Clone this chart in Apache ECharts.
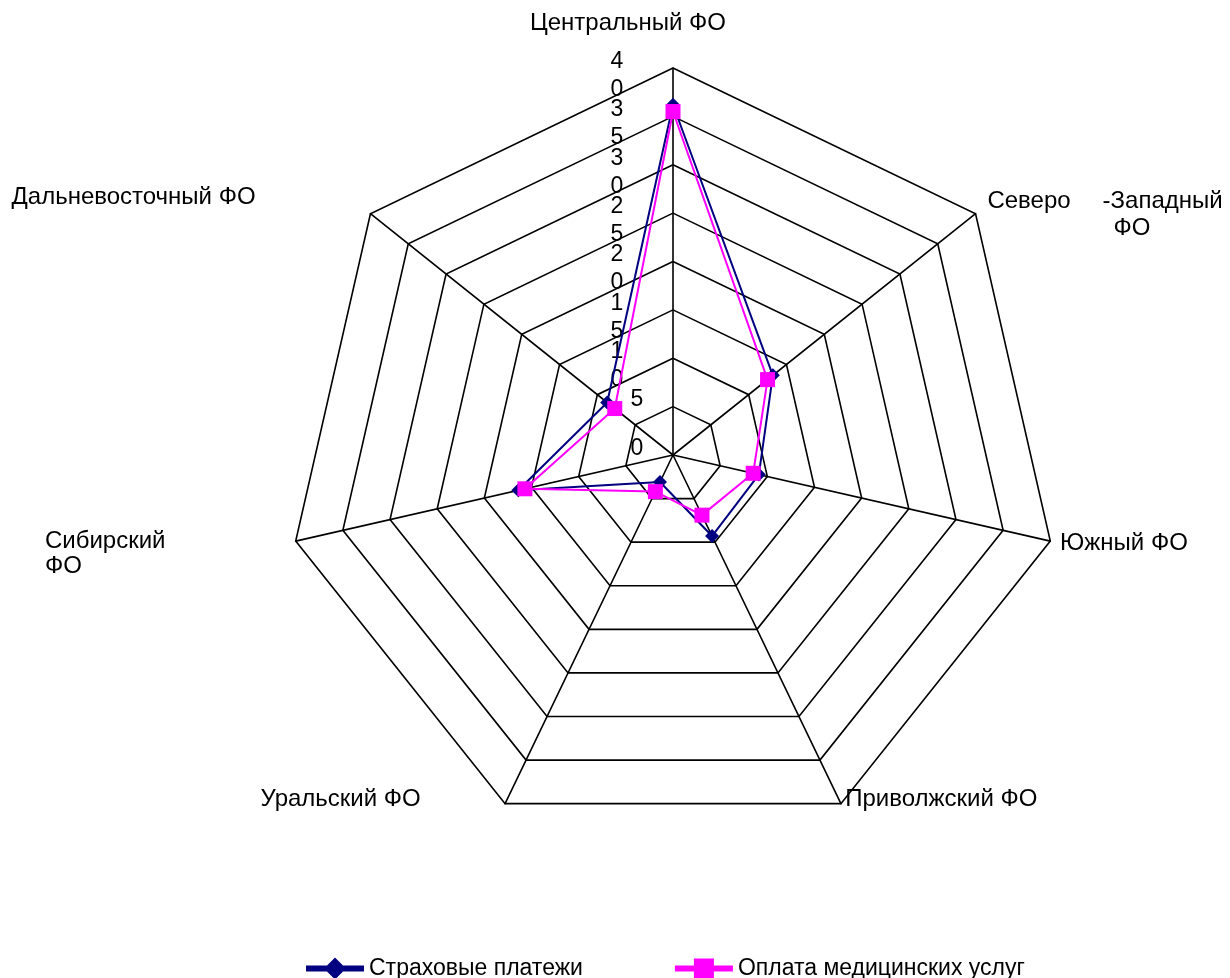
<!DOCTYPE html>
<html>
<head>
<meta charset="utf-8">
<script src="https://cdn.jsdelivr.net/npm/echarts@6/dist/echarts.min.js"></script>
<style>
  html, body { margin: 0; padding: 0; background: #fff; }
  #chart { width: 1230px; height: 978px; }
</style>
</head>
<body>
<div id="chart"></div>
<script>
// ---- data ----
const categories = ['Центральный ФО', 'Северо-Западный ФО', 'Южный ФО', 'Приволжский ФО', 'Уральский ФО', 'Сибирский ФО', 'Дальневосточный ФО'];
const seriesNames = ['Страховые платежи', 'Оплата медицинских услуг'];
const insurancePayments = [36.2, 13.2, 9.1, 9.3, 3.1, 16.4, 8.7];
const medicalPayments = [35.5, 12.5, 8.5, 6.9, 4.2, 15.7, 7.7];
const axisMin = 0;
const axisMax = 40;
const axisStep = 5;

// ---- layout / style ----
const FONT = 'Liberation Sans, Arial, sans-serif';
const FS = 24;
const TFS = 23;
// library draws indicators counter-clockwise; order them so they run clockwise
const order = [0, 6, 5, 4, 3, 2, 1];
const nameKey = ['cen', 'nw', 'south', 'volga', 'ural', 'sib', 'far'];

function nameFormatter(name) {
  const idx = categories.indexOf(name);
  const key = nameKey[idx];
  if (key === 'nw') {
    const parts = name.split('-');
    const second = parts[1].split(' ');
    return '{nw1|' + parts[0] + '}{nw2|-' + second[0] + '}\n{nw3|' + second[1] + '}';
  }
  if (key === 'sib') {
    const p = name.split(' ');
    return '{sib1|' + p[0] + '}\n{sib2|' + p[1] + '}';
  }
  return '{' + key + '|' + name + '}';
}
const base = { fontFamily: FONT, fontSize: FS, color: '#000' };
const nameRich = {
  cen: Object.assign({}, base, { padding: [0, 90, 23, 0] }),
  nw1: Object.assign({}, base, { lineHeight: 42, verticalAlign: 'bottom', padding: [0, 0, 0, 4] }),
  nw2: Object.assign({}, base, { lineHeight: 42, verticalAlign: 'bottom', padding: [0, 0, 0, 32] }),
  nw3: Object.assign({}, base, { lineHeight: 30, padding: [0, 0, 0, 130] }),
  south: Object.assign({}, base),
  volga: Object.assign({}, base, { padding: [0, 0, 26, 0] }),
  ural: Object.assign({}, base, { padding: [0, 80, 26, 0] }),
  sib1: Object.assign({}, base, { lineHeight: 47, verticalAlign: 'bottom', width: 120, align: 'left', padding: [0, 121, 0, 0] }),
  sib2: Object.assign({}, base, { lineHeight: 27, width: 120, align: 'left', padding: [0, 121, 0, 0] }),
  far: Object.assign({}, base, { padding: [0, 107, 20, 0] })
};

const diamondIcon = 'path://M0,8H58V14H0Z M29,0L40,11L29,22L18,11Z';
const squareIcon = 'path://M0,8H58V14H0Z M19,1H39V21H19Z M0,0H0.01V0.01H0Z M0,22H0.01V21.99H0Z';

// radial tick labels: digits stacked vertically (first digit / second digit)
const tickStyle = { fontFamily: FONT, fontSize: TFS, color: '#000' };
function tickAxis(gridIndex, formatter) {
  return {
    type: 'value', gridIndex: gridIndex,
    min: axisMin, max: axisMax, interval: axisStep,
    axisLine: { show: false }, axisTick: { show: false }, splitLine: { show: false },
    axisLabel: {
      margin: 8, align: 'center', verticalAlign: 'middle',
      showMinLabel: true, showMaxLabel: true, hideOverlap: false,
      formatter: formatter,
      rich: {
        d: Object.assign({}, tickStyle, { lineHeight: 26 }),
        s: Object.assign({}, tickStyle, { lineHeight: 26, padding: [0, 0, 0, 40] })
      }
    }
  };
}

const chart = echarts.init(document.getElementById('chart'), null, { renderer: 'canvas' });
chart.setOption({
  backgroundColor: '#fff',
  animation: false,
  textStyle: { fontFamily: FONT },
  legend: {
    top: 952,
    left: 301,
    itemWidth: 58,
    itemHeight: 22,
    itemGap: 92,
    textStyle: { fontFamily: FONT, fontSize: TFS, color: '#000' },
    data: [
      { name: seriesNames[0], icon: diamondIcon },
      { name: seriesNames[1], icon: squareIcon }
    ]
  },
  radar: {
    center: [673, 455],
    radius: 387,
    startAngle: 90,
    shape: 'polygon',
    splitNumber: (axisMax - axisMin) / axisStep,
    nameGap: 10,
    indicator: order.map(i => ({ name: categories[i], min: axisMin, max: axisMax })),
    axisName: {
      formatter: nameFormatter,
      rich: nameRich,
      color: '#000',
      fontSize: FS,
      fontFamily: FONT
    },
    axisLine: { lineStyle: { color: '#000', width: 1.6 } },
    splitLine: { lineStyle: { color: '#000', width: 1.6 } },
    splitArea: { show: false },
    axisTick: { show: false },
    axisLabel: { show: false }
  },
  grid: [
    { left: 625, top: 61.5, width: 10, height: 387 },
    { left: 625, top: 89.5, width: 10, height: 387 }
  ],
  xAxis: [
    { type: 'value', show: false, gridIndex: 0 },
    { type: 'value', show: false, gridIndex: 1 }
  ],
  yAxis: [
    tickAxis(0, function (v) {
      const s = String(v);
      return s.length > 1 ? '{d|' + s.charAt(0) + '}' : '{s|' + s + '}';
    }),
    tickAxis(1, function (v) {
      const s = String(v);
      return s.length > 1 ? '{d|' + s.charAt(1) + '}' : '';
    })
  ],
  series: [{
    type: 'radar',
    data: [
      {
        name: seriesNames[0],
        value: order.map(i => insurancePayments[i]),
        symbol: 'diamond',
        symbolSize: 14,
        itemStyle: { color: '#000080' },
        lineStyle: { color: '#000080', width: 2 }
      },
      {
        name: seriesNames[1],
        value: order.map(i => medicalPayments[i]),
        symbol: 'rect',
        symbolSize: 15,
        itemStyle: { color: '#FF00FF' },
        lineStyle: { color: '#FF00FF', width: 2 }
      }
    ]
  }]
});
</script>
</body>
</html>
